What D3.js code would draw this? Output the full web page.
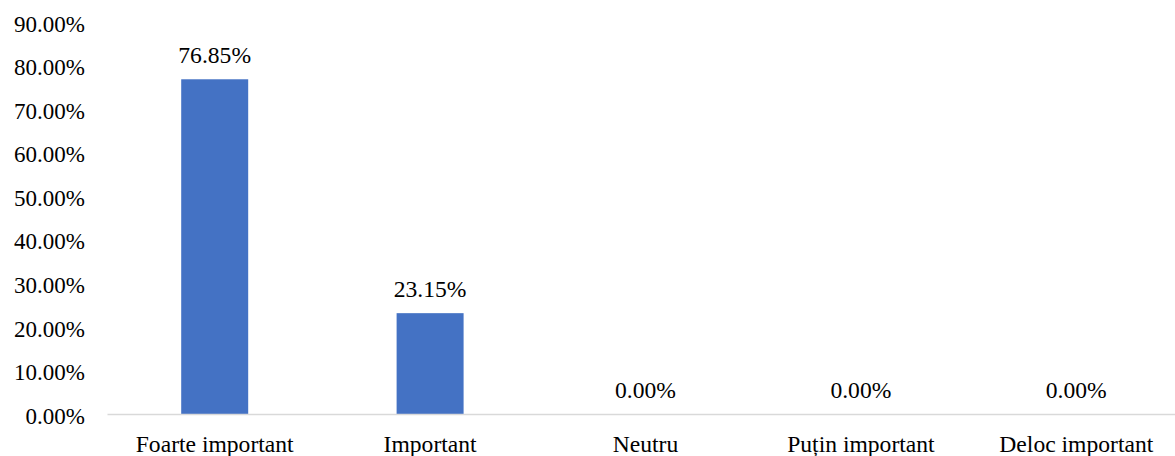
<!DOCTYPE html>
<html><head><meta charset="utf-8">
<script src="https://cdn.jsdelivr.net/npm/d3@7"></script>
<style>
html,body{margin:0;padding:0;background:#fff;}
</style></head>
<body>
<svg id="chart" width="1175" height="456"></svg>
<script>
const categories = ["Foarte important","Important","Neutru","Puțin important","Deloc important"];
const values = [76.85, 23.15, 0, 0, 0];
const yTicks = [0,10,20,30,40,50,60,70,80,90];

const FONT = "Liberation Serif";
const svg = d3.select("#chart");
const W = 1175, H = 456;
const margin = {left:107, top:22, bottom:42};
const plotRight = 1184;
const x = d3.scaleBand().domain(categories)
  .range([margin.left, plotRight])
  .paddingInner(0.689).paddingOuter(0.3445);
const y = d3.scaleLinear().domain([0,90]).range([H - margin.bottom, margin.top]);

const fsY = 23, fsX = 23.6;
// y axis labels
const yAxis = d3.axisLeft(y).tickValues(yTicks).tickSize(0).tickPadding(22)
  .tickFormat(d => d.toFixed(2) + "%");
const gy = svg.append("g").attr("transform", `translate(${margin.left},0)`).call(yAxis);
gy.attr("font-family", FONT).attr("font-size", fsY);
gy.select(".domain").remove();
gy.selectAll("text").attr("fill", "#000").attr("dy","0.4em");

// bars
svg.append("g").selectAll("rect").data(values).join("rect")
  .attr("x", (d,i) => x(categories[i]))
  .attr("width", x.bandwidth())
  .attr("y", d => y(d))
  .attr("height", d => y(0) - y(d))
  .attr("fill", "#4472C4");

// baseline axis
const xAxis = d3.axisBottom(x).tickSize(0).tickPadding(21);
const gx = svg.append("g").attr("transform", `translate(0,${y(0)})`).call(xAxis);
gx.attr("font-family", FONT).attr("font-size", fsX);
gx.select(".domain").attr("stroke", "#D9D9D9").attr("stroke-width", 1.5);
gx.selectAll("text").attr("fill", "#000");

// value labels
svg.append("g").attr("font-family", FONT).attr("font-size", fsX)
  .selectAll("text").data(values).join("text")
  .attr("x", (d,i) => x(categories[i]) + x.bandwidth()/2)
  .attr("y", d => y(d) - 16)
  .attr("text-anchor", "middle")
  .attr("fill", "#000")
  .text(d => d.toFixed(2) + "%");
</script>
</body></html>
